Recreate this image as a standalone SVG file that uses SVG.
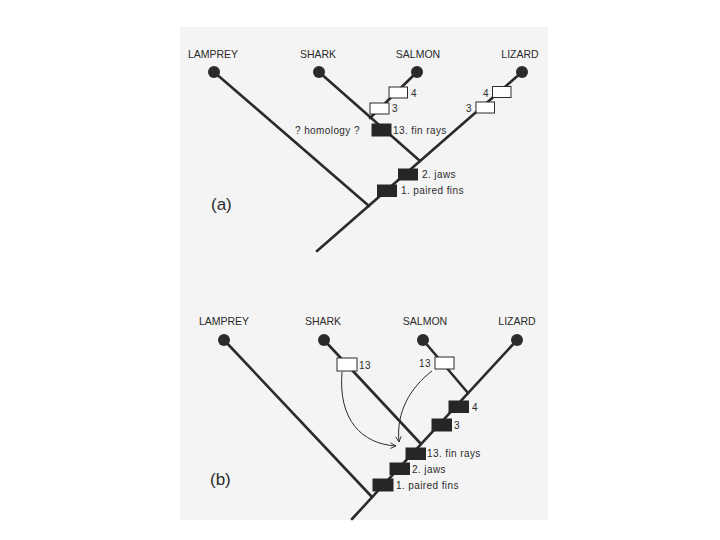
<svg xmlns="http://www.w3.org/2000/svg" width="720" height="540" viewBox="0 0 720 540">
<defs>
<style>
.br{stroke:#2b2b2b;stroke-width:2.6;fill:none;stroke-linecap:round}
.dot{fill:#2b2b2b}
.bk{fill:#262626;stroke:#262626;stroke-width:1}
.wb{fill:#ffffff;stroke:#2b2b2b;stroke-width:1}
.tx{font-family:"Liberation Sans",Arial,sans-serif;font-size:10.5px;fill:#2b2b2b}
.lb{font-family:"Liberation Sans",Arial,sans-serif;font-size:10px;fill:#2b2b2b;letter-spacing:0.4px}
.pl{font-family:"Liberation Sans",Arial,sans-serif;font-size:17px;fill:#2b2b2b}
.ar{stroke:#2b2b2b;stroke-width:1;fill:none}
</style>
<marker id="ah" viewBox="0 0 10 10" refX="9" refY="5" markerWidth="7" markerHeight="7" orient="auto" markerUnits="userSpaceOnUse">
<path d="M1,1 L9,5 L1,9" fill="none" stroke="#2b2b2b" stroke-width="1.3"/>
</marker>
</defs>
<rect x="180" y="27" width="368" height="493" fill="#f4f4f4"/>

<!-- Panel (a) -->
<g id="connectors-a">
<line class="br" x1="214" y1="72" x2="369" y2="206"/>
<line class="br" x1="317" y1="251" x2="522" y2="72"/>
<line class="br" x1="319" y1="72" x2="420" y2="161"/>
<line class="br" x1="417" y1="72" x2="370" y2="118"/>
</g>
<g id="a-lamprey"><circle class="dot" cx="214" cy="72" r="6"/><text class="tx" x="213" y="58" text-anchor="middle">LAMPREY</text></g>
<g id="a-shark"><circle class="dot" cx="319" cy="72" r="6"/><text class="tx" x="318" y="58" text-anchor="middle">SHARK</text></g>
<g id="a-salmon"><circle class="dot" cx="417" cy="72" r="6"/><text class="tx" x="418" y="58" text-anchor="middle">SALMON</text></g>
<g id="a-lizard"><circle class="dot" cx="522" cy="72" r="6"/><text class="tx" x="520" y="58" text-anchor="middle">LIZARD</text></g>
<g id="a-c1"><rect class="bk" x="377.5" y="185" width="19" height="11.5"/><text class="lb" x="401" y="194">1.  paired fins</text></g>
<g id="a-c2"><rect class="bk" x="398.5" y="169" width="19" height="11"/><text class="lb" x="422" y="178">2.  jaws</text></g>
<g id="a-c13"><rect class="bk" x="372" y="124" width="19" height="12"/><text class="lb" x="393" y="134">13.  fin rays</text></g>
<g id="a-hom"><text class="lb" x="295" y="134">? homology ?</text></g>
<g id="a-s3"><rect class="wb" x="370" y="103" width="19" height="11"/><text class="lb" x="392" y="112">3</text></g>
<g id="a-s4"><rect class="wb" x="389" y="87" width="18.5" height="11"/><text class="lb" x="411" y="97">4</text></g>
<g id="a-l3"><rect class="wb" x="476" y="102" width="18.5" height="11"/><text class="lb" x="466" y="112">3</text></g>
<g id="a-l4"><rect class="wb" x="492.5" y="86.5" width="18.5" height="11"/><text class="lb" x="483" y="97">4</text></g>
<text class="pl" x="211" y="210">(a)</text>

<!-- Panel (b) -->
<g id="connectors-b">
<line class="br" x1="224" y1="340" x2="372" y2="497"/>
<line class="br" x1="352" y1="519" x2="517" y2="340"/>
<line class="br" x1="324" y1="340" x2="421" y2="444"/>
<line class="br" x1="423" y1="340" x2="468" y2="393"/>
<path class="ar" d="M342,372 C338,420 362,444 396,446" marker-end="url(#ah)"/>
<path class="ar" d="M432,371 C410,388 396,412 399,442" marker-end="url(#ah)"/>
</g>
<g id="b-lamprey"><circle class="dot" cx="224" cy="340" r="6"/><text class="tx" x="224" y="325" text-anchor="middle">LAMPREY</text></g>
<g id="b-shark"><circle class="dot" cx="324" cy="340" r="6"/><text class="tx" x="323" y="325" text-anchor="middle">SHARK</text></g>
<g id="b-salmon"><circle class="dot" cx="423" cy="340" r="6"/><text class="tx" x="425" y="325" text-anchor="middle">SALMON</text></g>
<g id="b-lizard"><circle class="dot" cx="517" cy="340" r="6"/><text class="tx" x="517" y="325" text-anchor="middle">LIZARD</text></g>
<g id="b-c1"><rect class="bk" x="373" y="479" width="20" height="12"/><text class="lb" x="396" y="489">1.  paired fins</text></g>
<g id="b-c2"><rect class="bk" x="390" y="463" width="19.5" height="11.5"/><text class="lb" x="412" y="473">2.  jaws</text></g>
<g id="b-c13"><rect class="bk" x="406" y="448" width="19.5" height="11.5"/><text class="lb" x="427" y="457">13.  fin rays</text></g>
<g id="b-c3"><rect class="bk" x="432" y="419" width="19.5" height="12"/><text class="lb" x="454" y="429">3</text></g>
<g id="b-c4"><rect class="bk" x="449" y="401" width="19.5" height="11.5"/><text class="lb" x="472" y="411">4</text></g>
<g id="b-sh13"><rect class="wb" x="337" y="358" width="20" height="13"/><text class="lb" x="359" y="369">13</text></g>
<g id="b-sa13"><rect class="wb" x="435" y="357" width="19" height="12"/><text class="lb" x="419" y="367">13</text></g>
<text class="pl" x="210" y="485">(b)</text>
</svg>
